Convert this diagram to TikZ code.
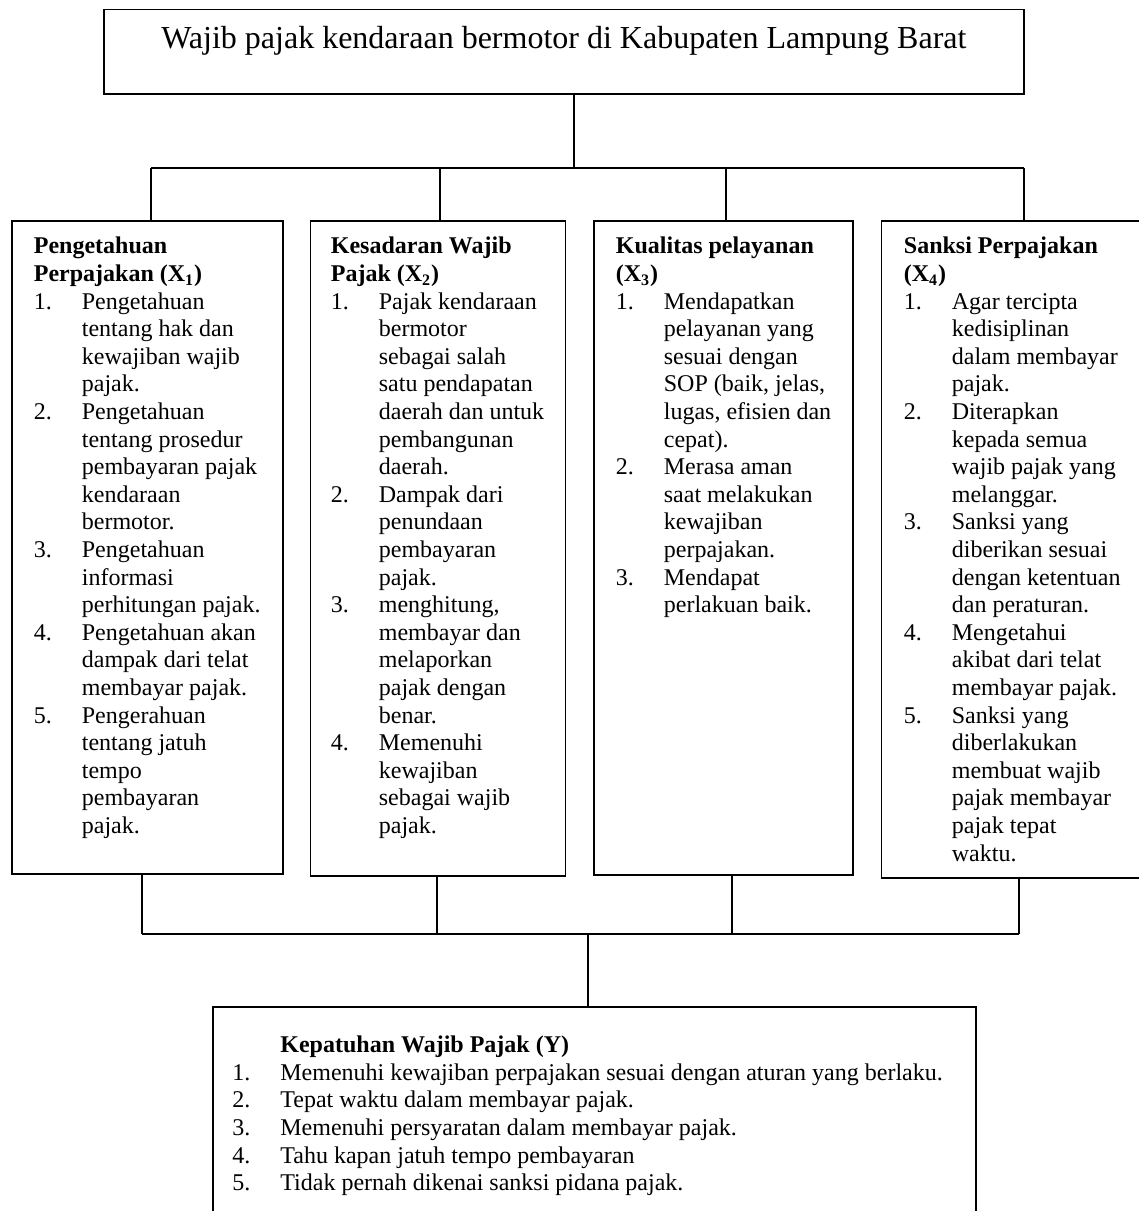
\documentclass[tikz,border=0pt]{standalone}
\usepackage{fontspec}
\setmainfont{Liberation Serif}
\usepackage{tikz}
\usetikzlibrary{positioning}

\newcommand{\butir}[2]{\makebox[24pt][l]{#1.}#2}
\newcommand{\lanjut}[1]{\hspace*{24pt}#1}

\begin{document}
\begin{tikzpicture}[x=0.5pt, y=-0.5pt,
		kotak/.style={draw, line width=0.9pt, inner sep=0pt, anchor=north west, font=\fontsize{12}{13.8}\selectfont},
		garis/.style={line width=0.8pt}]
			\useasboundingbox (0,0) rectangle (1139,1211);
			\clip (0,0) rectangle (1139,1211);

			% kotak atas
			\node[kotak, font=\fontsize{16}{18}\selectfont] (wp) at (103,8.5) {\parbox[c][42.25pt][t]{460pt}{\centering\rule{0pt}{19.75pt}Wajib pajak kendaraan bermotor di Kabupaten Lampung Barat}};

			% variabel X
			\node[kotak] (x1) at (11,220) {\parbox[c][326.5pt][t]{135.5pt}{\leftskip=11pt\rule{0pt}{16.5pt}\textbf{Pengetahuan}\\
				\textbf{Perpajakan (X\textsubscript{1})}\\
				\butir{1}{Pengetahuan}\\ \lanjut{tentang hak dan}\\ \lanjut{kewajiban wajib}\\ \lanjut{pajak.}\\
				\butir{2}{Pengetahuan}\\ \lanjut{tentang prosedur}\\ \lanjut{pembayaran pajak}\\ \lanjut{kendaraan}\\ \lanjut{bermotor.}\\
				\butir{3}{Pengetahuan}\\ \lanjut{informasi}\\ \lanjut{perhitungan pajak.}\\
				\butir{4}{Pengetahuan akan}\\ \lanjut{dampak dari telat}\\ \lanjut{membayar pajak.}\\
				\butir{5}{Pengerahuan}\\ \lanjut{tentang jatuh}\\ \lanjut{tempo}\\ \lanjut{pembayaran}\\ \lanjut{pajak.}}};
			\node[kotak] (x2) at (309.5,220) {\parbox[c][327.5pt][t]{127.5pt}{\leftskip=10.25pt\rule{0pt}{16.5pt}\textbf{Kesadaran Wajib}\\
				\textbf{Pajak (X\textsubscript{2})}\\
				\butir{1}{Pajak kendaraan}\\ \lanjut{bermotor}\\ \lanjut{sebagai salah}\\ \lanjut{satu pendapatan}\\ \lanjut{daerah dan untuk}\\ \lanjut{pembangunan}\\ \lanjut{daerah.}\\
				\butir{2}{Dampak dari}\\ \lanjut{penundaan}\\ \lanjut{pembayaran}\\ \lanjut{pajak.}\\
				\butir{3}{menghitung,}\\ \lanjut{membayar dan}\\ \lanjut{melaporkan}\\ \lanjut{pajak dengan}\\ \lanjut{benar.}\\
				\butir{4}{Memenuhi}\\ \lanjut{kewajiban}\\ \lanjut{sebagai wajib}\\ \lanjut{pajak.}}};
			\node[kotak] (x3) at (593,220) {\parbox[c][327pt][t]{129.5pt}{\leftskip=11pt\rule{0pt}{16.5pt}\textbf{Kualitas pelayanan}\\
				\textbf{(X\textsubscript{3})}\\
				\butir{1}{Mendapatkan}\\ \lanjut{pelayanan yang}\\ \lanjut{sesuai dengan}\\ \lanjut{SOP (baik, jelas,}\\ \lanjut{lugas, efisien dan}\\ \lanjut{cepat).}\\
				\butir{2}{Merasa aman}\\ \lanjut{saat melakukan}\\ \lanjut{kewajiban}\\ \lanjut{perpajakan.}\\
				\butir{3}{Mendapat}\\ \lanjut{perlakuan baik.}}};
			\node[kotak] (x4) at (880.5,220) {\parbox[c][328.5pt][t]{140pt}{\leftskip=11.25pt\rule{0pt}{16.5pt}\textbf{Sanksi Perpajakan}\\
				\textbf{(X\textsubscript{4})}\\
				\butir{1}{Agar tercipta}\\ \lanjut{kedisiplinan}\\ \lanjut{dalam membayar}\\ \lanjut{pajak.}\\
				\butir{2}{Diterapkan}\\ \lanjut{kepada semua}\\ \lanjut{wajib pajak yang}\\ \lanjut{melanggar.}\\
				\butir{3}{Sanksi yang}\\ \lanjut{diberikan sesuai}\\ \lanjut{dengan ketentuan}\\ \lanjut{dan peraturan.}\\
				\butir{4}{Mengetahui}\\ \lanjut{akibat dari telat}\\ \lanjut{membayar pajak.}\\
				\butir{5}{Sanksi yang}\\ \lanjut{diberlakukan}\\ \lanjut{membuat wajib}\\ \lanjut{pajak membayar}\\ \lanjut{pajak tepat}\\ \lanjut{waktu.}}};

			% variabel Y
			\node[kotak] (y) at (212,1006) {\parbox[c][112pt][t]{381.5pt}{\leftskip=9.75pt\rule{0pt}{22.85pt}\lanjut{\textbf{Kepatuhan Wajib Pajak (Y)}}\\
				\butir{1}{Memenuhi kewajiban perpajakan sesuai dengan aturan yang berlaku.}\\
				\butir{2}{Tepat waktu dalam membayar pajak.}\\
				\butir{3}{Memenuhi persyaratan dalam membayar pajak.}\\
				\butir{4}{Tahu kapan jatuh tempo pembayaran}\\
				\butir{5}{Tidak pernah dikenai sanksi pidana pajak.}}};

			% titik cabang
			\coordinate (jt) at (574,168);
			\coordinate (j1) at (151,168);
			\coordinate (j2) at (440,168);
			\coordinate (j3) at (726,168);
			\coordinate (j4) at (1024,168);
			\coordinate (jb) at (588,934);
			\coordinate (b1) at (142,934);
			\coordinate (b2) at (437,934);
			\coordinate (b3) at (732,934);
			\coordinate (b4) at (1019,934);

			\draw[garis] (wp.south -| jt) -- (jt);
			\draw[garis] (j1) -- (j4);
			\foreach \k in {1,...,4}
				\draw[garis] (j\k) -- (j\k |- x\k.north);
			\foreach \k in {1,...,4}
				\draw[garis] (x\k.south -| b\k) -- (b\k);
			\draw[garis] (b1) -- (b4);
			\draw[garis] (jb) -- (jb |- y.north);
		\end{tikzpicture}
\end{document}
